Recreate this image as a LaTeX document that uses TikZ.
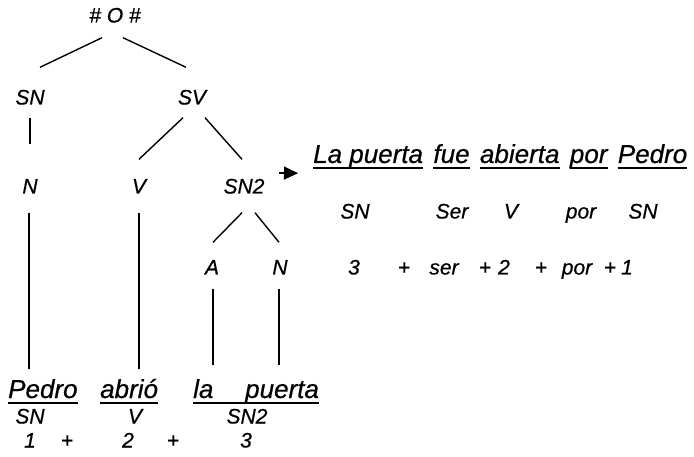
\documentclass[tikz,border=0pt]{standalone}
\usepackage{fontspec}
\setmainfont{Liberation Sans}[FakeBold=0.6]
\usetikzlibrary{positioning,arrows.meta,calc}

\begin{document}
\begin{tikzpicture}[
x=1pt,y=-1pt,
node distance=10pt,
lbl/.style={inner sep=0pt,text height=15pt,text depth=0pt,font=\fontsize{21}{25}\selectfont\itshape},
word/.style={inner sep=0pt,text height=18.6pt,text depth=0pt,font=\fontsize{26}{31}\selectfont\itshape},
branch/.style={line width=1.4pt},
uline/.style={line width=2pt},
arrow/.style={-{Triangle[length=14pt,width=13pt]},line width=1.6pt}
]
\useasboundingbox (0,0) rectangle (694,457);
% tree
\node[lbl] (root) at (115,15) {\# O \#};
\node[lbl] (sn) at (30,97) {SN};
\node[lbl] (sv) at (192,97) {SV};
\node[lbl] (n1) at (30,186) {N};
\node[lbl] (v) at (139,186) {V};
\node[lbl] (sn2) at (244,186) {SN2};
\node[lbl] (a) at (212,267) {A};
\node[lbl] (n2) at (280,267) {N};
% active sentence
\node[word,anchor=base west] (pedro) at (8,398) {Pedro};
\node[word,anchor=base west] (abrio) at (100,398) {abrió};
\node[word,anchor=base west] (la) at (193,398) {la};
\node[word,anchor=base west] (puerta) at (245,398) {puerta};
\foreach \x/\t [count=\i] in {30/SN,135/V,247/SN2}
  \node[lbl] (cat\i) at (\x,416) {\t};
\foreach \x/\t [count=\i] in {30/1,67/+,128/2,173/+,246/3}
  \node[lbl] (num\i) at (\x,440) {\t};
% passive sentence
\node[word,anchor=base west] (w1) at (313,163) {La puerta};
\node[word,right=of w1] (w2) {fue};
\node[word,right=of w2] (w3) {abierta};
\node[word,right=of w3] (w4) {por};
\node[word,right=of w4] (w5) {Pedro};
\foreach \x/\t [count=\i] in {355/SN,452/Ser,511/V,581/por,643/SN}
  \node[lbl] (pas\i) at (\x,211) {\t};
\foreach \x/\t [count=\i] in {354/3,404/+,444/ser,485/+,504/2,541/+,577/por,610/+,627/1}
  \node[lbl] (ord\i) at (\x,267) {\t};

\draw[branch] ($(root.south)+(-13,15)$) -- ($(sn.north)+(10,-22)$);
\draw[branch] ($(root.south)+(8,15)$) -- ($(sv.north)+(-6,-22)$);
\draw[branch] ($(sn.south)+(0,13)$) -- ($(n1.north)+(0,-34)$);
\draw[branch] ($(sv.south)+(-9,13)$) -- ($(v.north)+(0,-19)$);
\draw[branch] ($(sv.south)+(13,13)$) -- ($(sn2.north)+(-2,-19)$);
\draw[branch] ($(sn2.south)+(-2,19)$) -- ($(a.north)+(1,-17)$);
\draw[branch] ($(sn2.south)+(11,19)$) -- ($(n2.north)+(-1,-17)$);
\draw[branch] ($(n1.south)+(-1,19)$) -- ($(n1 |- pedro.north)+(-1,-10)$);
\draw[branch] ($(v.south)+(0,19)$) -- ($(v |- abrio.north)+(0,-10)$);
\draw[branch] ($(a.south)+(1,14)$) -- ($(a |- la.north)+(1,-14)$);
\draw[branch] ($(n2.south)+(-1,14)$) -- ($(n2 |- puerta.north)+(-1,-14)$);

% underlines
\foreach \w in {pedro,abrio,w1,w2,w3,w4,w5}
  \draw[uline] ([yshift=-5pt]\w.south west) -- ([yshift=-5pt]\w.south east);
\draw[uline] ([yshift=-5pt]la.south west) -- ([yshift=-5pt]puerta.south east);

\draw[arrow] ($(sn2.east)+(14.5,-13)$) -- ($(w1.south west)+(-15,10)$);
\end{tikzpicture}
\end{document}
